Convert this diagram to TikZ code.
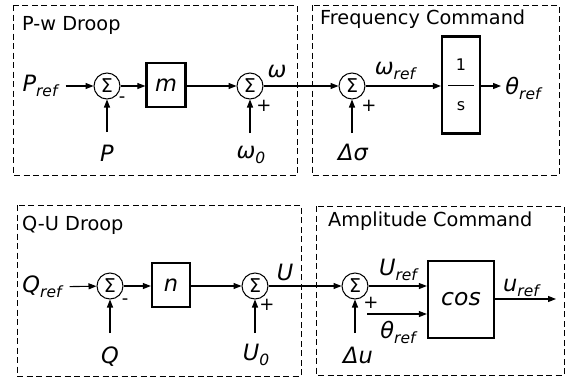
\documentclass[tikz,border=0pt]{standalone}
\usepackage{fontspec}
\setmainfont{DejaVu Sans}
\usetikzlibrary{arrows.meta}
\newcommand\sbs[1]{\raisebox{-0.22em}{\fontsize{15.5}{15.5}\selectfont #1}}
\begin{document}
\begin{tikzpicture}[x=1pt,y=-1pt,
  grp/.style={draw, dash pattern=on 6pt off 3.5pt, line width=1pt},
  sumnode/.style={draw, circle, minimum size=26pt, inner sep=0pt, font=\fontsize{19}{19}\selectfont, line width=1pt},
  blk/.style={draw, line width=2.3pt, inner sep=0pt},
  sig/.style={font=\fontsize{22.5}{22.5}\selectfont\itshape, inner sep=1pt},
  ttl/.style={font=\fontsize{19.3}{19.3}\selectfont, anchor=west, inner sep=0pt},
  sgn/.style={font=\fontsize{18}{18}\selectfont, inner sep=0pt},
  small/.style={font=\fontsize{16}{16}\selectfont, inner sep=0pt},
  arr/.style={-{Triangle[length=8pt,width=6pt]}, line width=1.1pt},
  ln/.style={line width=1.1pt}]
\useasboundingbox (0,0) rectangle (576,378);

% group frames
\draw[grp] (13,5) rectangle (297,175);
\draw[grp] (312,5) rectangle (559,175);
\draw[grp] (17,205) rectangle (301,376);
\draw[grp] (316,206) rectangle (564,375);

\node[ttl] (t1) at (22,25) {P-w Droop};
\node[ttl] (t2) at (320,19) {Frequency Command};
\node[ttl] (t3) at (22,225) {Q-U Droop};
\node[ttl] (t4) at (328,221) {Amplitude Command};

% ---------- top row ----------
\node[sig] (pref) at (40,86) {P\sbs{ref}};
\node[sumnode] (s1) at (107,86) {Σ};
\node[blk, minimum width=39pt, minimum height=44pt, font=\fontsize{22.5}{22.5}\selectfont\itshape] (m) at (166,85) {m};
\node[sumnode] (s2) at (250,86) {Σ};
\node[sumnode] (s3) at (352,86) {Σ};
\node[blk, minimum width=38pt, minimum height=97pt] (int) at (461,85) {};
\node[small] (one) at (461,65) {1};
\node[small] (ess) at (461,106) {s};
\draw[line width=1pt] (448,85) -- (474,85);
\node[sig] (thr) at (523,88) {θ\sbs{ref}};
\node[sig] (p) at (107,153) {P};
\node[sig] (w0) at (251,155) {ω\sbs{0}};
\node[sig] (ds) at (353,152) {Δσ};
\node[sig] (w) at (277,72) {ω};
\node[sig] (wref) at (395,71) {ω\sbs{ref}};
\node[sgn] (m1) at (122,100) {-};
\node[sgn] (pl1) at (264,106) {+};
\node[sgn] (pl2) at (369,106) {+};

\coordinate (pin) at (107,132);
\coordinate (w0in) at (250,133);
\coordinate (dsin) at (352,133);
\coordinate (throut) at (501,86);

\draw[arr, shorten <=7pt] (pref) -- (s1);
\draw[arr] (pin) -- (s1);
\draw[arr] (s1) -- (m.west |- s1);
\draw[arr] (m.east |- s2) -- (s2);
\draw[arr] (w0in) -- (s2);
\draw[arr] (s2) -- (s3);
\draw[arr] (dsin) -- (s3);
\draw[arr] (s3) -- (int.west |- s3);
\draw[arr] (int.east |- throut) -- (throut);

% ---------- bottom row ----------
\node[sig] (qref) at (42,287) {Q\sbs{ref}};
\node[sumnode] (s4) at (110,286) {Σ};
\node[blk, minimum width=38pt, minimum height=44pt, font=\fontsize{22.5}{22.5}\selectfont\itshape] (n) at (171,285) {n};
\node[sumnode] (s5) at (255,286) {Σ};
\node[sumnode] (s6) at (355,286) {Σ};
\node[blk, minimum width=66pt, minimum height=77pt, font=\fontsize{23.5}{23.5}\selectfont\itshape] (cosb) at (461,299.5) {cos};
\node[sig] (qq) at (110,357) {Q};
\node[sig] (u0) at (256,355) {U\sbs{0}};
\node[sig] (du) at (358,355) {Δu};
\node[sig] (uu) at (285,272) {U};
\node[sig] (uref) at (398,270) {U\sbs{ref}};
\node[sig] (thref2) at (398,332) {θ\sbs{ref}};
\node[sig] (uref2) at (521,288) {u\sbs{ref}};
\node[sgn] (m2) at (125,302) {-};
\node[sgn] (pl3) at (267,305) {+};
\node[sgn] (pl4) at (371,303) {+};

\coordinate (qin) at (110,333);
\coordinate (u0in) at (255,333);
\coordinate (duin) at (355,333);
\coordinate (thin) at (367,314);
\coordinate (uout) at (556,299);

\draw[arr, shorten <=7pt] (qref) -- (s4);
\draw[arr] (qin) -- (s4);
\draw[arr] (s4) -- (n.west |- s4);
\draw[arr] (n.east |- s5) -- (s5);
\draw[arr] (u0in) -- (s5);
\draw[arr] (s5) -- (s6);
\draw[arr] (duin) -- (s6);
\draw[arr] (s6) -- (cosb.west |- s6);
\draw[arr] (thin) -- (cosb.west |- thin);
\draw[arr] (cosb.east |- uout) -- (uout);
\end{tikzpicture}
\end{document}
